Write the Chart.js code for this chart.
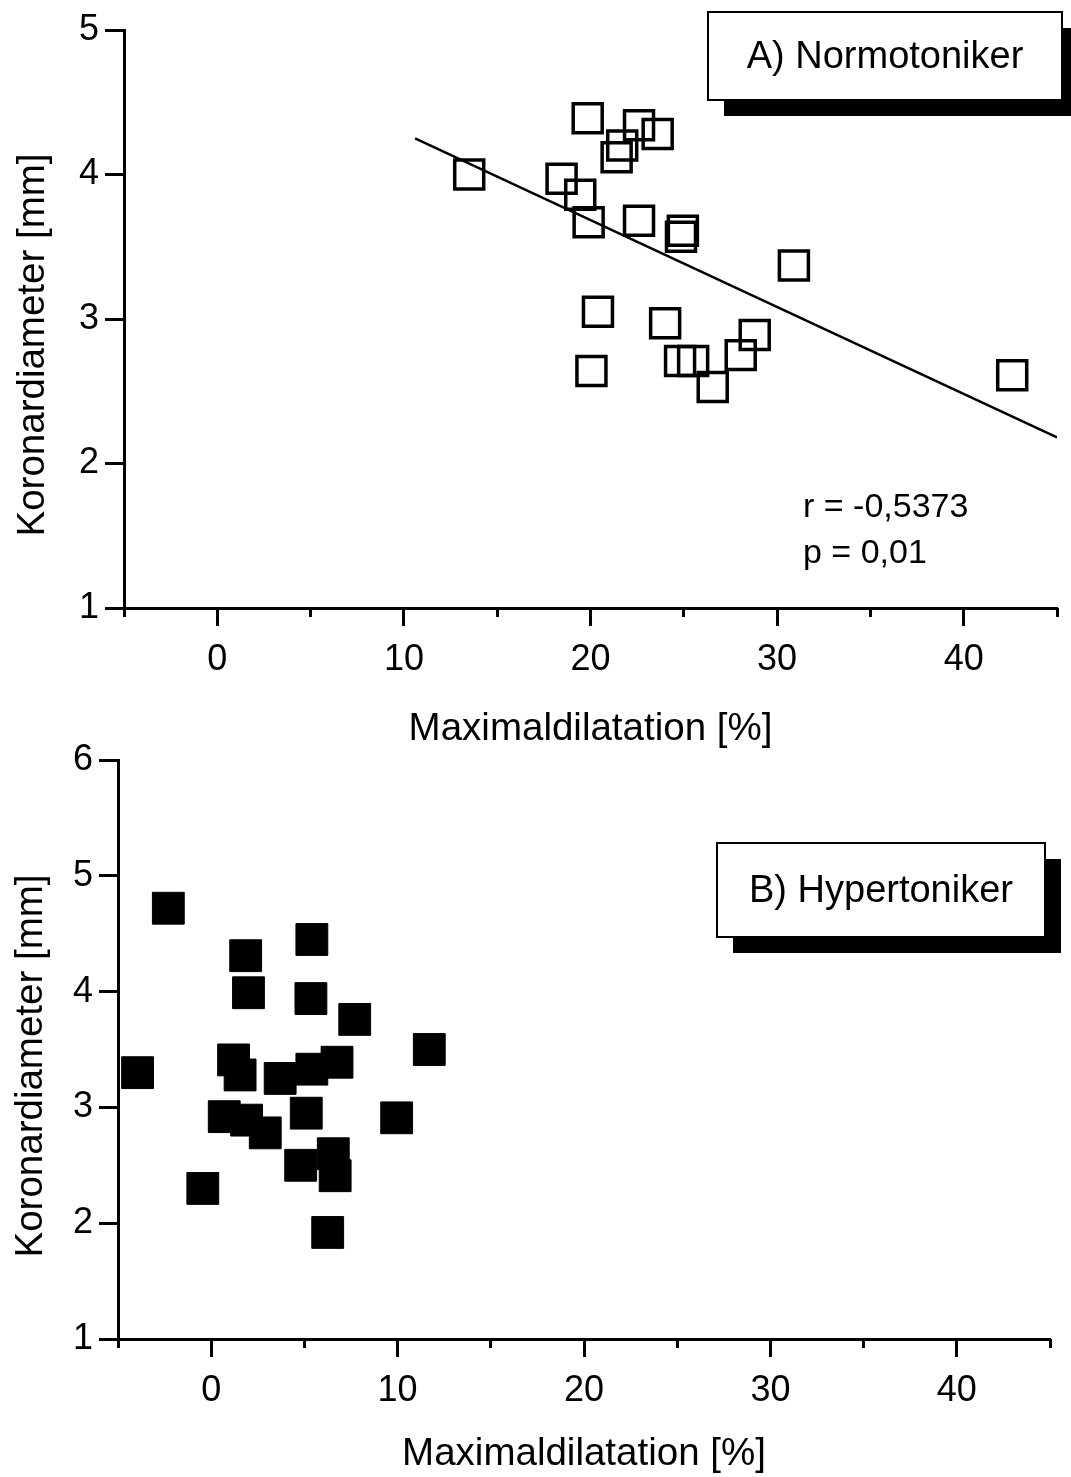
<!DOCTYPE html>
<html>
<head>
<meta charset="utf-8">
<script src="https://cdn.jsdelivr.net/npm/chart.js@4.4.1/dist/chart.umd.min.js"></script>
<style>
  body { margin: 0; background: #fff; }
  #wrap { position: relative; width: 1071px; height: 1477px; overflow: hidden; }
  canvas { position: absolute; left: 0; }
</style>
</head>
<body>
<div id="wrap">
  <canvas id="chartA" width="1071" height="750" style="top:0"></canvas>
  <canvas id="chartB" width="1071" height="747" style="top:730px"></canvas>
</div>
<script>
const FONT = '"Liberation Sans", Arial, Helvetica, sans-serif';

const xLabel = 'Maximaldilatation [%]';
const yLabel = 'Koronardiameter [mm]';
const xMajorTicks = [0, 10, 20, 30, 40];
const xMinorTicks = [-5, 0, 5, 10, 15, 20, 25, 30, 35, 40, 45];

// A) Normotoniker
const normoX = [13.5, 19.85, 22.6, 23.6, 21.7, 21.4, 18.45, 19.45, 19.9, 22.6, 24.95, 24.85, 30.9, 20.4, 24.0, 20.05, 24.8, 25.5, 26.55, 28.05, 28.8, 42.6];
const normoY = [4.00, 4.39, 4.34, 4.28, 4.20, 4.12, 3.97, 3.86, 3.67, 3.68, 3.61, 3.57, 3.37, 3.05, 2.97, 2.64, 2.71, 2.71, 2.53, 2.75, 2.89, 2.61];
const normoYTicks = [1, 2, 3, 4, 5];
// regression line (end points)
const fitX = [10.6, 45];
const fitY = [4.25, 2.18];
const statsText = ['r = -0,5373', 'p = 0,01'];

// B) Hypertoniker
const hyperX = [-2.3, 5.4, 1.85, 2.0, 5.35, 7.7, 11.7, -3.95, 1.2, 1.55, 3.7, 5.4, 6.75, 0.7, 1.9, 2.9, 5.1, 9.95, 6.55, 4.8, 6.65, -0.45, 6.25];
const hyperY = [4.72, 4.45, 4.31, 3.99, 3.94, 3.76, 3.50, 3.30, 3.41, 3.28, 3.25, 3.33, 3.39, 2.92, 2.89, 2.78, 2.95, 2.91, 2.60, 2.50, 2.41, 2.30, 1.92];
const hyperYTicks = [1, 2, 3, 4, 5, 6];

// y title, label box and notes
const decorations = {
    id: 'decorations',
    afterDraw(chart, args, opts) {
        const ctx = chart.ctx;

        ctx.save();
        ctx.fillStyle = '#000';
        ctx.font = '38.5px ' + FONT;
        ctx.textAlign = 'center';
        ctx.textBaseline = 'middle';
        ctx.translate(opts.yTitleX, opts.yTitleY);
        ctx.rotate(-Math.PI / 2);
        ctx.fillText(yLabel, 0, 0);
        ctx.restore();

        const b = opts.box;
        ctx.save();
        ctx.fillStyle = '#000';
        ctx.fillRect(b.x + b.shadow, b.y + b.shadow, b.w, b.h);
        ctx.fillStyle = '#fff';
        ctx.fillRect(b.x, b.y, b.w, b.h);
        ctx.lineWidth = 2;
        ctx.strokeStyle = '#000';
        ctx.strokeRect(b.x, b.y, b.w, b.h);
        ctx.fillStyle = '#000';
        ctx.font = '38px ' + FONT;
        ctx.textAlign = 'center';
        ctx.textBaseline = 'middle';
        ctx.fillText(b.text, b.x + b.w / 2, b.y + b.h / 2 + 2);
        ctx.restore();

        if (opts.notes) {
            ctx.save();
            ctx.fillStyle = '#000';
            ctx.font = '34px ' + FONT;
            ctx.textAlign = 'left';
            ctx.textBaseline = 'alphabetic';
            opts.notes.lines.forEach((t, i) => {
                ctx.fillText(t, opts.notes.x, opts.notes.y + i * opts.notes.gap);
            });
            ctx.restore();
        }
    }
};

function buildOptions(p) {
    return {
        animation: false,
        responsive: false,
        layout: {
            autoPadding: false,
            padding: { top: p.padTop, right: p.padRight, left: 0, bottom: 0 }
        },
        plugins: {
            legend: { display: false },
            tooltip: { enabled: false },
            decorations: p.deco
        },
        scales: {
            x: {
                type: 'linear',
                position: 'bottom',
                min: -5,
                max: 45,
                afterFit: s => {
                    s.height = p.xHeight;
                    s.paddingLeft = 0;
                    s.paddingRight = 0;
                },
                afterBuildTicks: s => { s.ticks = xMajorTicks.map(v => ({ value: v })); },
                ticks: { font: { family: FONT, size: 36 }, color: '#000', padding: 12, maxRotation: 0 },
                grid: { drawOnChartArea: false, drawTicks: true, tickLength: 18, tickWidth: 3, tickColor: '#000' },
                border: { display: true, color: '#000', width: 3 },
                title: {
                    display: true,
                    text: xLabel,
                    color: '#000',
                    font: { family: FONT, size: 38.5, lineHeight: 1 },
                    padding: { top: 0, bottom: p.titlePad }
                }
            },
            x2: {
                type: 'linear',
                position: { y: p.yMin },
                min: -5,
                max: 45,
                afterFit: s => {
                    s.paddingLeft = 0;
                    s.paddingRight = 0;
                },
                afterBuildTicks: s => { s.ticks = xMinorTicks.map(v => ({ value: v })); },
                ticks: { display: false },
                grid: { drawOnChartArea: false, drawTicks: true, tickLength: 9, tickWidth: 3, tickColor: '#000' },
                border: { display: false }
            },
            y: {
                type: 'linear',
                min: p.yMin,
                max: p.yMax,
                afterFit: s => {
                    s.width = p.yWidth;
                    s.paddingTop = 0;
                    s.paddingBottom = 0;
                },
                afterBuildTicks: s => { s.ticks = p.yTicks.map(v => ({ value: v })); },
                ticks: { font: { family: FONT, size: 36 }, color: '#000', padding: 6 },
                grid: { drawOnChartArea: false, drawTicks: true, tickLength: 19, tickWidth: 3, tickColor: '#000' },
                border: { display: true, color: '#000', width: 3 }
            }
        }
    };
}

new Chart(document.getElementById('chartA').getContext('2d'), {
    type: 'scatter',
    data: {
        datasets: [
            {
                label: 'Normotoniker',
                data: normoX.map((x, i) => ({ x: x, y: normoY[i] })),
                pointStyle: 'rect',
                pointRadius: 20.5,
                pointHoverRadius: 20.5,
                pointBorderWidth: 3.5,
                pointBorderColor: '#000',
                pointBackgroundColor: 'rgba(0,0,0,0)'
            },
            {
                label: 'Regression',
                data: fitX.map((x, i) => ({ x: x, y: fitY[i] })),
                showLine: true,
                borderColor: '#000',
                borderWidth: 2.5,
                pointRadius: 0,
                fill: false
            }
        ]
    },
    options: buildOptions({
        padTop: 30, padRight: 14, xHeight: 142, yWidth: 124, titlePad: 1,
        yMin: 1, yMax: 5, yTicks: normoYTicks,
        deco: {
            yTitleX: 33, yTitleY: 345,
            box: { x: 708, y: 12, w: 354, h: 88, shadow: 16, text: 'A) Normotoniker' },
            notes: { x: 803, y: 517, gap: 46, lines: statsText }
        }
    }),
    plugins: [decorations]
});

new Chart(document.getElementById('chartB').getContext('2d'), {
    type: 'scatter',
    data: {
        datasets: [
            {
                label: 'Hypertoniker',
                data: hyperX.map((x, i) => ({ x: x, y: hyperY[i] })),
                pointStyle: 'rect',
                pointRadius: 22.5,
                pointHoverRadius: 22.5,
                pointBorderWidth: 1,
                pointBorderColor: '#000',
                pointBackgroundColor: '#000'
            }
        ]
    },
    options: buildOptions({
        padTop: 30, padRight: 21, xHeight: 138, yWidth: 118, titlePad: 3,
        yMin: 1, yMax: 6, yTicks: hyperYTicks,
        deco: {
            yTitleX: 31, yTitleY: 336,
            box: { x: 717, y: 113, w: 328, h: 94, shadow: 16, text: 'B) Hypertoniker' }
        }
    }),
    plugins: [decorations]
});
</script>
</body>
</html>
